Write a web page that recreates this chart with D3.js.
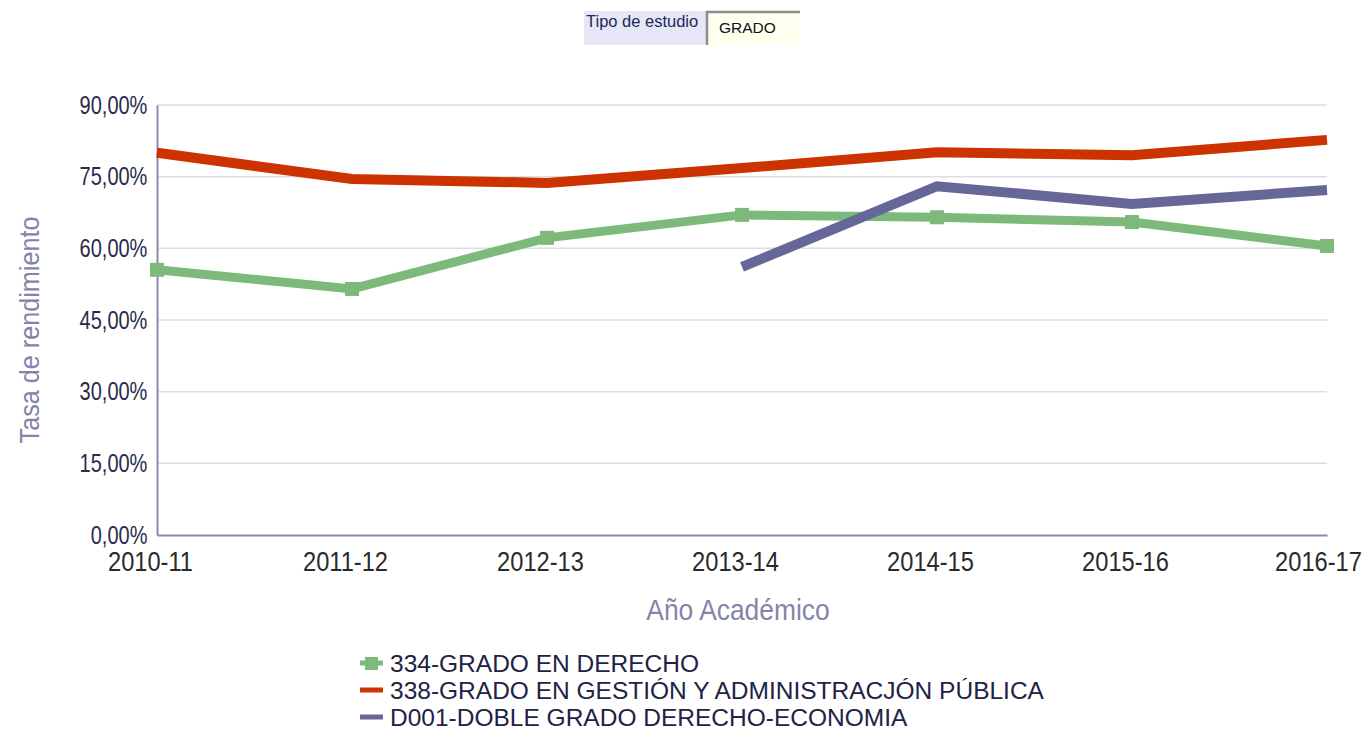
<!DOCTYPE html>
<html>
<head>
<meta charset="utf-8">
<script src="https://cdn.jsdelivr.net/npm/d3@7"></script>
<style>
  html, body { margin: 0; padding: 0; background: #fff; }
  svg { display: block; }
</style>
</head>
<body>
<div id="chart-area"></div>
<script>
// Chart data
const years = ['2010-11', '2011-12', '2012-13', '2013-14', '2014-15', '2015-16', '2016-17'];
const derecho = [55.5, 51.5, 62.2, 67.0, 66.5, 65.5, 60.5];
const gestion = [80.0, 74.5, 73.7, 76.8, 80.1, 79.5, 82.7];
const doble = [null, null, null, 56.1, 73.0, 69.3, 72.2];
const yTicks = [0, 15, 30, 45, 60, 75, 90];
const seriesNames = ['334-GRADO EN DERECHO', '338-GRADO EN GESTIÓN Y ADMINISTRACJÓN PÚBLICA', 'D001-DOBLE GRADO DERECHO-ECONOMIA'];

(function () {
    'use strict';

    const WIDTH = 1368;
    const HEIGHT = 730;
    const MARGIN = {LEFT: 157, RIGHT: 41, TOP: 105, BOTTOM: 195};
    const wGraph = WIDTH - MARGIN.LEFT - MARGIN.RIGHT;
    const hGraph = HEIGHT - MARGIN.TOP - MARGIN.BOTTOM;

    // no narrow font installed, so squeeze regular sans text horizontally
    const SANS = '"Liberation Sans", Arial, sans-serif';
    const SX_Y = 0.8;      // y tick labels
    const SX_X = 0.845;    // x tick labels

    const colors = ['#7db97a', '#cc3300', '#666699'];
    const titleColor = '#8484aa';

    const svg = d3.select('#chart-area').append('svg')
        .attr('width', WIDTH)
        .attr('height', HEIGHT);

    // Filter widget at the top
    const filter = svg.append('g');
    filter.append('rect')
        .attr('x', 584).attr('y', 11).attr('width', 123).attr('height', 34)
        .attr('fill', '#e6e6f6');
    filter.append('text')
        .attr('x', 586).attr('y', 27)
        .attr('font-family', SANS).attr('font-size', 16.5)
        .attr('fill', '#1a2a5a')
        .text('Tipo de estudio');
    filter.append('rect')
        .attr('x', 707).attr('y', 11).attr('width', 93).attr('height', 34)
        .attr('fill', '#fffff0');
    filter.append('path')
        .attr('d', 'M707,45 V12 H800')
        .attr('fill', 'none').attr('stroke', '#8c8c8c').attr('stroke-width', 2.5);
    filter.append('text')
        .attr('x', 719).attr('y', 33)
        .attr('font-family', SANS).attr('font-size', 15.5)
        .attr('fill', '#111')
        .text('GRADO');

    const group = svg.append('g')
        .attr('transform', `translate(${MARGIN.LEFT}, ${MARGIN.TOP})`);

    const xScale = d3.scalePoint()
        .domain(years)
        .range([0, wGraph]);

    const yScale = d3.scaleLinear()
        .domain([0, 90])
        .range([hGraph, 0]);

    // Gridlines
    group.append('g')
        .selectAll('line')
        .data(yTicks.filter(d => d > 0))
        .enter()
        .append('line')
        .attr('x1', 0).attr('x2', wGraph)
        .attr('y1', d => yScale(d)).attr('y2', d => yScale(d))
        .attr('stroke', '#dcdcea')
        .attr('stroke-width', 1.5);

    // Y axis
    const yAxisCall = d3.axisLeft(yScale)
        .tickValues(yTicks)
        .tickSize(0)
        .tickPadding(12)
        .tickFormat(d => d3.format('.2f')(d).replace('.', ',') + '%');
    const yAxis = group.append('g')
        .attr('class', 'y axis')
        .call(yAxisCall);
    yAxis.select('.domain').attr('stroke', '#8a8aae').attr('stroke-width', 2);
    yAxis.selectAll('text')
        .attr('font-family', SANS)
        .attr('font-size', 25)
        .attr('fill', '#2a2a4a')
        .attr('transform', `scale(${SX_Y},1)`);

    // X axis
    const xAxisCall = d3.axisBottom(xScale).tickSize(0).tickPadding(16);
    const xAxis = group.append('g')
        .attr('class', 'x axis')
        .attr('transform', `translate(0,${hGraph})`)
        .call(xAxisCall);
    xAxis.select('.domain').attr('stroke', '#8a8aae').attr('stroke-width', 2);
    xAxis.selectAll('text')
        .attr('font-family', SANS)
        .attr('font-size', 28)
        .attr('fill', '#2a2a2a')
        .attr('dx', (d, i) => (i === years.length - 1 ? -9 : -7) / SX_X)
        .attr('transform', `scale(${SX_X},1)`);

    // Axis titles
    group.append('text')
        .attr('transform', `translate(${738 - MARGIN.LEFT},${hGraph + 85}) scale(0.88,1)`)
        .attr('font-family', SANS)
        .attr('font-size', 30)
        .attr('fill', titleColor)
        .attr('text-anchor', 'middle')
        .text('Año Académico');

    group.append('text')
        .attr('transform', `translate(${39 - MARGIN.LEFT},${330 - MARGIN.TOP}) rotate(-90) scale(0.9,1)`)
        .attr('font-family', SANS)
        .attr('font-size', 28)
        .attr('fill', titleColor)
        .attr('text-anchor', 'middle')
        .text('Tasa de rendimiento');

    // Lines
    const series = [derecho, gestion, doble];
    const line = d3.line()
        .defined(d => d.v !== null)
        .x(d => xScale(d.year))
        .y(d => yScale(d.v));

    series.forEach((vals, s) => {
        const pts = years.map((y, i) => ({year: y, v: vals[i]}));
        group.append('path')
            .datum(pts)
            .attr('fill', 'none')
            .attr('stroke', colors[s])
            .attr('stroke-width', s === 0 ? 9 : 10)
            .attr('d', line);
    });

    // Square markers on the green series
    group.selectAll('rect.marker')
        .data(years.map((y, i) => ({year: y, v: derecho[i]})))
        .enter()
        .append('rect')
        .attr('class', 'marker')
        .attr('x', d => xScale(d.year) - 7)
        .attr('y', d => yScale(d.v) - 7)
        .attr('width', 14)
        .attr('height', 14)
        .attr('fill', colors[0]);

    // Legend
    const legend = svg.append('g')
        .attr('transform', 'translate(360, 663)');
    seriesNames.forEach((name, i) => {
        const g = legend.append('g').attr('transform', `translate(0, ${i * 27})`);
        g.append('line')
            .attr('x1', 0).attr('x2', 23)
            .attr('y1', 0).attr('y2', 0)
            .attr('stroke', colors[i])
            .attr('stroke-width', 5);
        if (i === 0) {
            g.append('rect')
                .attr('x', 5).attr('y', -6)
                .attr('width', 13).attr('height', 13)
                .attr('fill', colors[0]);
        }
        g.append('text')
            .attr('x', 30)
            .attr('y', 9)
            .attr('font-family', SANS)
            .attr('font-size', 24.5)
            .attr('fill', '#222244')
            .text(name);
    });
})();
</script>
</body>
</html>
